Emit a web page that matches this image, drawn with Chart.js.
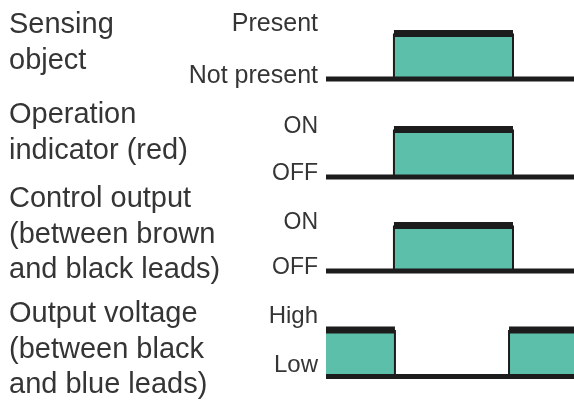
<!DOCTYPE html>
<html>
<head>
<meta charset="utf-8">
<script src="https://cdn.jsdelivr.net/npm/chart.js@4.4.1/dist/chart.umd.min.js"></script>
<style>
  html, body { margin: 0; padding: 0; background: #fff; }
  #wrap { width: 574px; height: 403px; position: relative; }
</style>
</head>
<body>
<div id="wrap"><canvas id="timing"></canvas></div>
<script>
// row descriptions and state labels (low, high)
const rowTitles = [
	["Sensing", "object"],
	["Operation", "indicator (red)"],
	["Control output", "(between brown", "and black leads)"],
	["Output voltage", "(between black", "and blue leads)"]
];
const stateLabels = [
	["Not present", "Present"],
	["OFF", "ON"],
	["OFF", "ON"],
	["Low", "High"]
];

// signal levels per time segment (0 = low, 1 = high)
const edgeTimes = [0, 27.4, 75.4, 100];
const sensingObject = [0, 1, 0];
const operationIndicator = [0, 1, 0];
const controlOutput = [0, 1, 0];
const outputEdges = [0, 27.8, 73.8, 100];
const outputVoltage = [1, 0, 1];

const rows = [
	{ edges: edgeTimes, levels: sensingObject },
	{ edges: edgeTimes, levels: operationIndicator },
	{ edges: edgeTimes, levels: controlOutput },
	{ edges: outputEdges, levels: outputVoltage }
];

// layout of each row band
const axisRange = [[-0.478, 1.736], [-0.516, 1.605], [-0.687, 1.527], [-0.570, 1.597]];
const labelLevels = [[0.055, 1.209], [0.063, 1.053], [0.077, 1.055], [0.247, 1.29]];
const labelFont = [25, 23, 23, 24];

const ink = "#1c1c1c";
const teal = "#5cbfa9";
const textColor = "#353535";
const family = '"Liberation Sans", Arial, sans-serif';

function steps(edges, levels) {
	const pts = [];
	levels.forEach((lv, i) => {
		pts.push({ x: edges[i], y: lv });
		pts.push({ x: edges[i + 1], y: lv });
	});
	return pts;
}

const baselines = rows.map((row, r) => ({
	data: [{ x: row.edges[0], y: 0 }, { x: row.edges[row.edges.length - 1], y: 0 }],
	yAxisID: 'y' + r,
	borderColor: ink,
	borderWidth: 5,
	fill: false
}));

const signals = rows.map((row, r) => {
	const pts = steps(row.edges, row.levels);
	return {
		data: pts,
		yAxisID: 'y' + r,
		borderColor: ink,
		borderWidth: 7,
		backgroundColor: teal,
		fill: { value: 0 },
		segment: {
			borderWidth: ctx => {
				const a = pts[ctx.p0DataIndex], b = pts[ctx.p1DataIndex];
				return a.y !== b.y ? 2 : 7;
			},
			borderColor: ctx => {
				const a = pts[ctx.p0DataIndex], b = pts[ctx.p1DataIndex];
				return (a.y === b.y && a.y === 0) ? 'rgba(0,0,0,0)' : ink;
			}
		}
	};
});

const scales = {
	x: { type: 'linear', min: 0, max: 100, display: false }
};
// left boxes are stacked in reverse order, so declare the bottom row first
for (let r = rows.length - 1; r >= 0; r--) {
	scales['y' + r] = {
		type: 'linear',
		position: 'left',
		stack: 'rows',
		stackWeight: 1,
		min: axisRange[r][0],
		max: axisRange[r][1],
		grid: { display: false, drawTicks: false },
		border: { display: false },
		afterBuildTicks: axis => {
			axis.ticks = labelLevels[r].map(v => ({ value: v }));
		},
		afterFit: axis => {
			axis.width = 326;
			axis.paddingTop = 0;
			axis.paddingBottom = 0;
		},
		ticks: {
			autoSkip: false,
			padding: 8,
			color: textColor,
			font: { family: family, size: labelFont[r] },
			callback: (value, index) => stateLabels[r][index]
		}
	};
}

const rowTitlePlugin = {
	id: 'rowTitles',
	afterDraw(chart, args, opts) {
		const c = chart.ctx;
		c.save();
		c.font = opts.size + 'px ' + family;
		c.fillStyle = textColor;
		c.textAlign = 'left';
		c.textBaseline = 'alphabetic';
		rowTitles.forEach((lines, r) => {
			lines.forEach((t, i) => c.fillText(t, opts.x, opts.firstBaseline[r] + i * opts.lineHeight));
		});
		c.restore();
	}
};

new Chart(document.getElementById('timing'), {
	type: 'line',
	data: { datasets: baselines.concat(signals) },
	plugins: [rowTitlePlugin],
	options: {
		responsive: true,
		maintainAspectRatio: false,
		animation: false,
		layout: { padding: 0 },
		elements: { point: { radius: 0, hoverRadius: 0 }, line: { tension: 0, borderCapStyle: 'butt' } },
		plugins: {
			legend: { display: false },
			tooltip: { enabled: false },
			rowTitles: { size: 29, x: 9, firstBaseline: [33, 123, 207, 322], lineHeight: 35.7 }
		},
		scales: scales
	}
});
</script>
</body>
</html>
